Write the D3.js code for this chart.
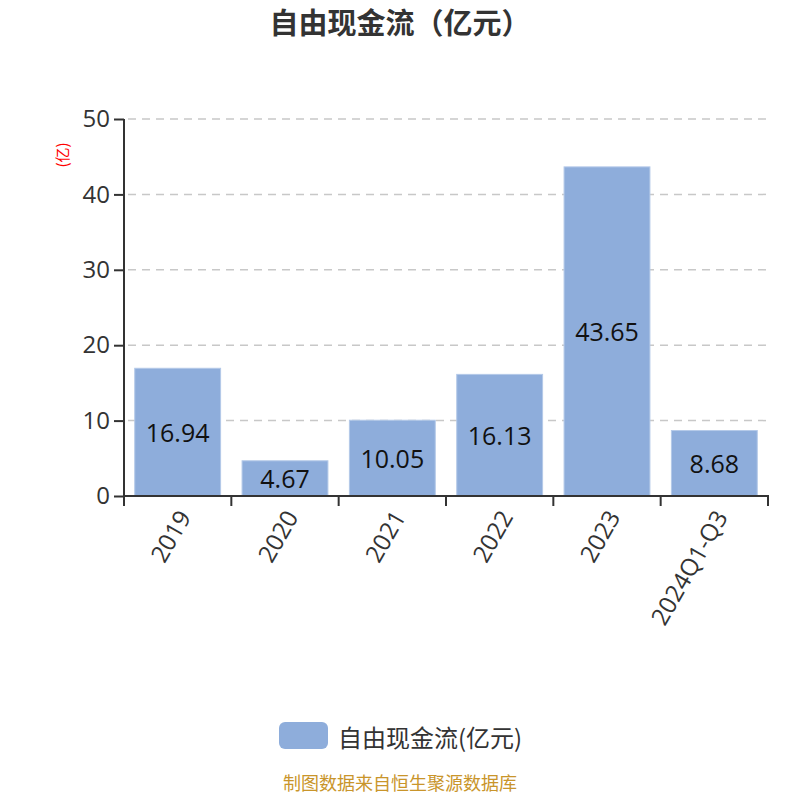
<!DOCTYPE html>
<html><head><meta charset="utf-8">
<script src="https://cdn.jsdelivr.net/npm/d3@7"></script>
<style>body{margin:0;background:#fff;}</style>
</head><body>
<svg id="c" width="800" height="800"></svg>
<script>
const categories = ["2019","2020","2021","2022","2023","2024Q1-Q3"];
const values = [16.94, 4.67, 10.05, 16.13, 43.65, 8.68];
const yTicks = [0,10,20,30,40,50];
const title = "自由现金流（亿元）";
const seriesName = "自由现金流(亿元)";
const unitLabel = "(亿)";
const footer = "制图数据来自恒生聚源数据库";

const svg = d3.select("#c");
const font = '"Open Sans","Noto Sans CJK SC",sans-serif';
const cjk = '"Noto Sans CJK SC","Open Sans",sans-serif';
const L=124,R=768,T=119,B=496;
const xb = d3.scaleBand().domain(categories).range([L,R]);
const y = d3.scaleLinear().domain([0,50]).range([B,T]);

svg.append("text").attr("x",400).attr("y",34).attr("text-anchor","middle")
  .attr("font-family",cjk).attr("font-size",29).attr("font-weight","bold").attr("fill","#333").text(title);

// grid
svg.append("g").selectAll("line").data(yTicks.filter(d=>d>0)).join("line")
  .attr("x1",L+4).attr("x2",R).attr("y1",d=>y(d)).attr("y2",d=>y(d))
  .attr("stroke","#c8c8c8").attr("stroke-width",1.5).attr("stroke-dasharray","8,6");

// bars
svg.append("g").selectAll("rect").data(values).join("rect")
  .attr("x",(d,i)=>xb(categories[i])+xb.bandwidth()*0.1).attr("width",xb.bandwidth()*0.8)
  .attr("y",d=>y(d)).attr("height",d=>B-y(d))
  .attr("fill","#8eaddb").attr("stroke","#b4c9e8").attr("stroke-width",1);

svg.append("g").selectAll("text").data(values).join("text")
  .attr("x",(d,i)=>xb(categories[i])+xb.bandwidth()/2).attr("y",d=>(y(d)+B)/2)
  .attr("text-anchor","middle").attr("dominant-baseline","central")
  .attr("font-family",font).attr("font-size",25).attr("fill","#111").text(d=>d.toFixed(2));

// y axis
const ya = svg.append("g").attr("transform",`translate(${L},0)`)
  .call(d3.axisLeft(y).tickValues(yTicks).tickSize(10).tickPadding(4));
ya.select(".domain").attr("stroke","#333").attr("stroke-width",2).attr("d",`M0,${T}V${B}`);
ya.selectAll(".tick line").attr("stroke","#333").attr("stroke-width",2);
ya.selectAll(".tick text").attr("font-family",font).attr("font-size",24).attr("fill","#333");
// x axis
const xa = svg.append("g").attr("transform",`translate(0,${B})`)
  .call(d3.axisBottom(xb).tickSize(0));
xa.select(".domain").attr("stroke","#333").attr("stroke-width",2).attr("d",`M${L},10V0H${R}V10`);
xa.selectAll(".tick text").attr("font-family",font).attr("font-size",24).attr("fill","#333")
  .attr("text-anchor","end").attr("dy",0).attr("y",0)
  .attr("transform","translate(6,16) rotate(-60)").attr("dominant-baseline","central");
// tick separators
svg.append("g").selectAll("line").data(categories.slice(1)).join("line")
  .attr("x1",d=>xb(d)).attr("x2",d=>xb(d)).attr("y1",B).attr("y2",B+10)
  .attr("stroke","#333").attr("stroke-width",2);

svg.append("text").attr("transform","translate(68,155) rotate(-90)").attr("text-anchor","middle")
  .attr("font-family",cjk).attr("font-size",15).attr("fill","red").text(unitLabel);

// legend
svg.append("rect").attr("x",279).attr("y",722).attr("width",49).attr("height",27).attr("rx",6)
  .attr("fill","#8eaddb");
svg.append("text").attr("x",338).attr("y",736).attr("dominant-baseline","central")
  .attr("font-family",cjk).attr("font-size",24).attr("fill","#333").text(seriesName);

svg.append("text").attr("x",400).attr("y",790).attr("text-anchor","middle")
  .attr("font-family",cjk).attr("font-size",18).attr("fill","#c9952b").text(footer);
</script>
</body></html>
